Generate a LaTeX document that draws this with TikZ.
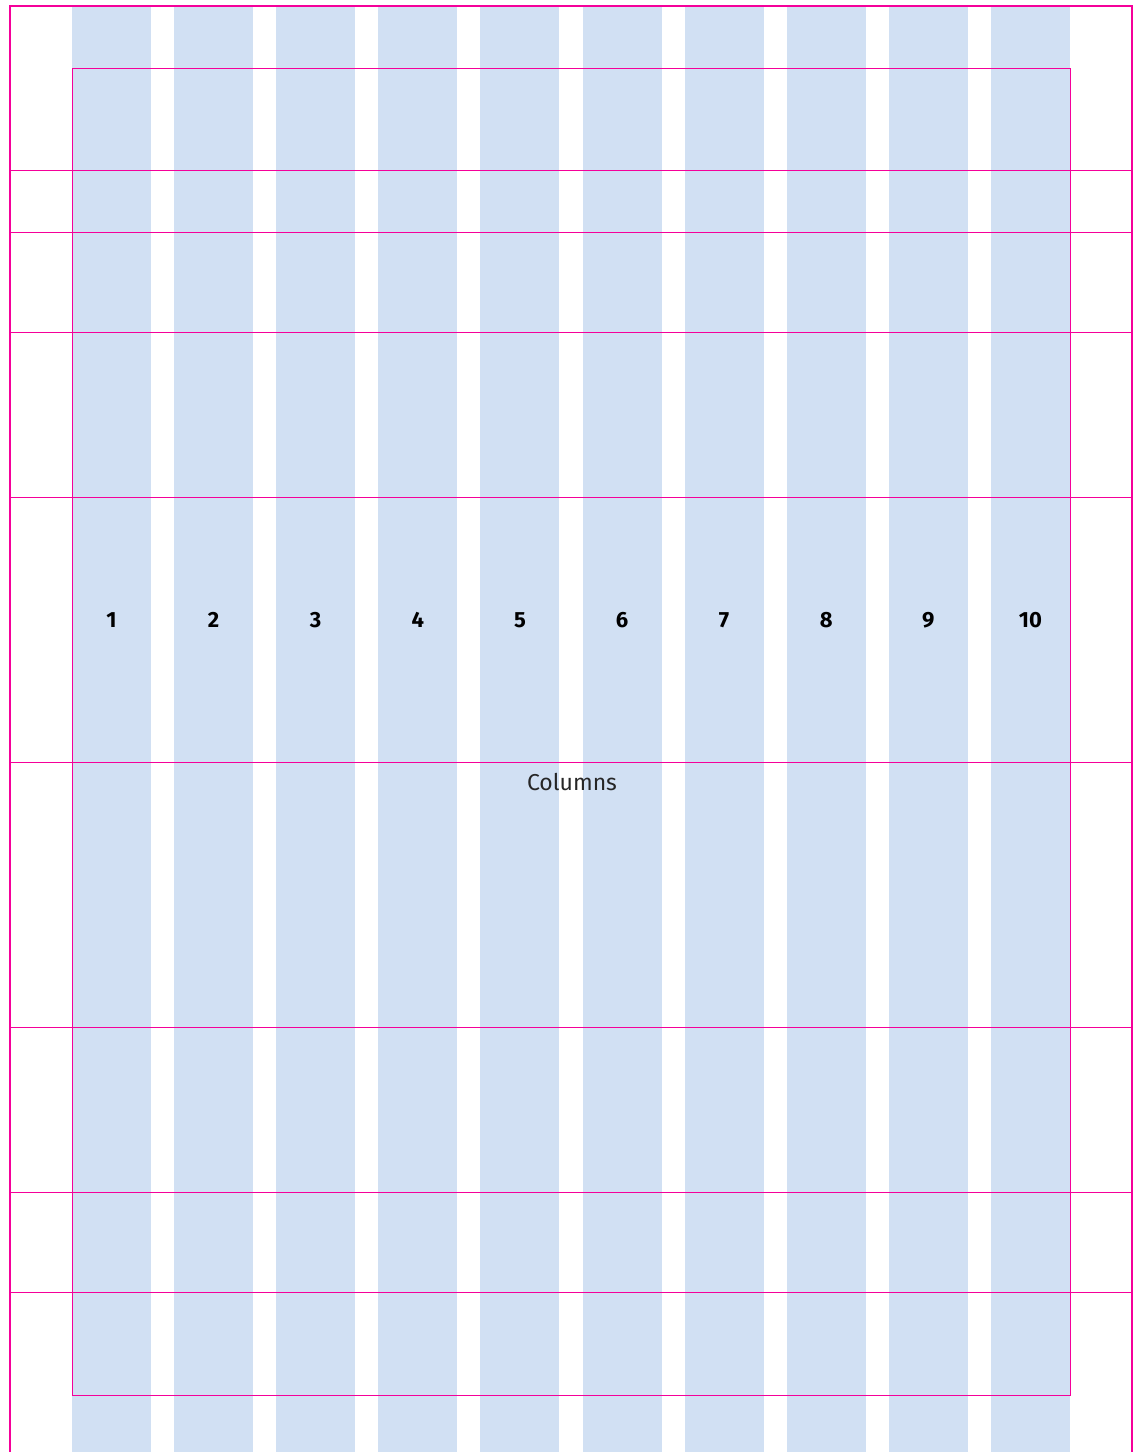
\documentclass[tikz,border=0pt]{standalone}
\usepackage{fontspec}
\setmainfont{Fira Sans}
\usepackage{tikz}
\usetikzlibrary{calc}
\definecolor{gridColor}{HTML}{F5009A}
\definecolor{columnColor}{HTML}{D1E0F3}

\begin{document}
\begin{tikzpicture}[x=1pt, y=-1pt]
    \useasboundingbox (0,0) rectangle (1140,1452);

    % columns
    \foreach \i in {1,...,10} {
        \pgfmathsetmacro{\xl}{72 + (\i-1)*102.1}
        \fill[columnColor] (\xl,6) rectangle ++(79,1446);
        \node[font=\fontsize{22}{26}\selectfont\bfseries] (col\i) at (\xl+39.5,620) {\i};
    }

    % guides
    \draw[gridColor, line width=1.1pt] (10,1452) -- (10,6) -- (1132,6) -- (1132,1452);
    \draw[gridColor, line width=1pt] (72,68) rectangle (1070,1395);
    \foreach \y in {170,232,332,497,762,1027,1192,1292}
        \draw[gridColor, line width=1pt] (10,\y) -- (1132,\y);

    \node[font=\fontsize{23}{26}\selectfont\fontseries{l}\selectfont, text=black!85] (columns) at (572,782) {Columns};
\end{tikzpicture}
\end{document}
